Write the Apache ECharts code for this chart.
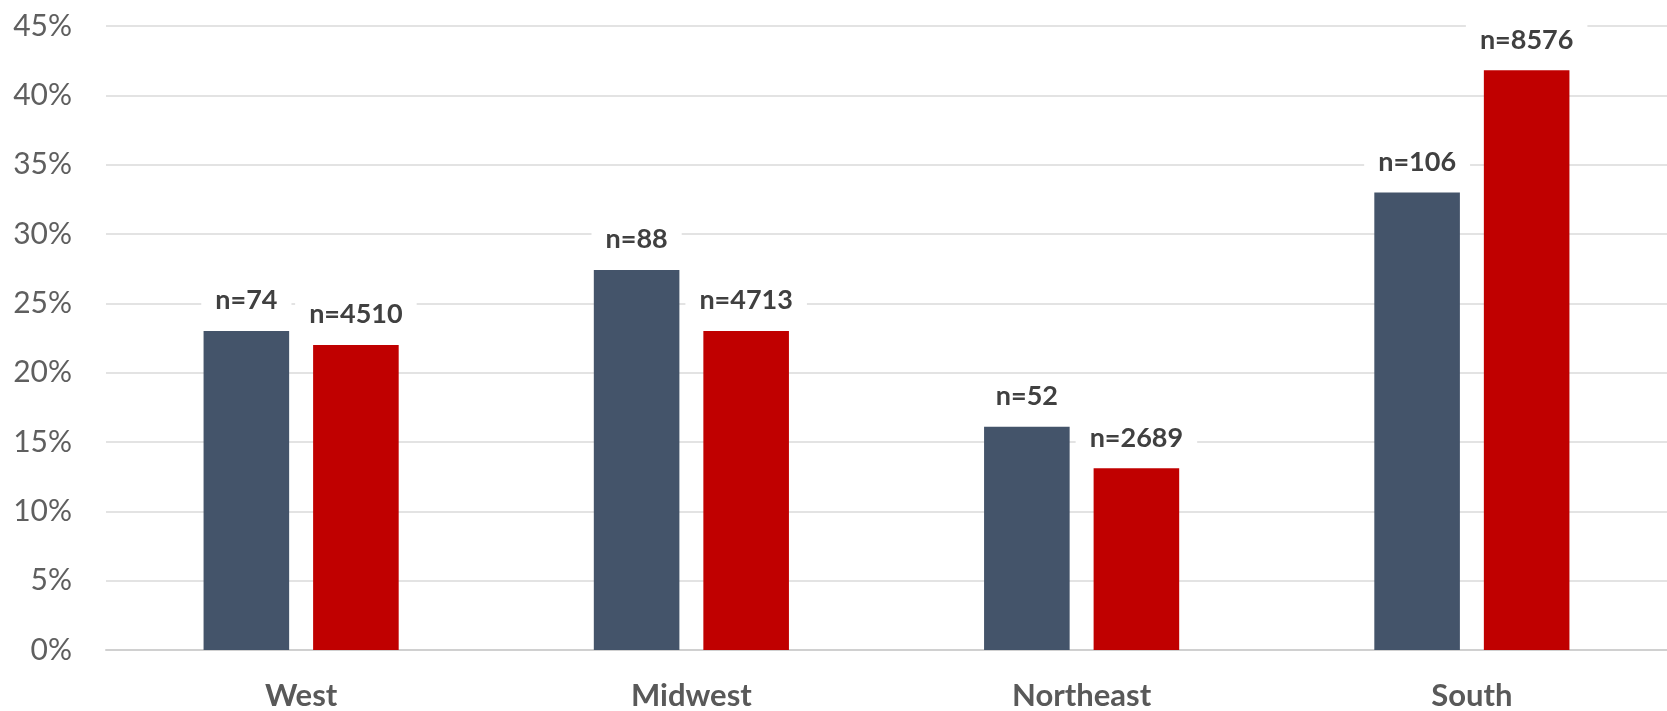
<!DOCTYPE html>
<html>
<head>
<meta charset="utf-8">
<script src="https://cdn.jsdelivr.net/npm/echarts@6/dist/echarts.min.js"></script>
<style>
html,body{margin:0;padding:0;background:#fff;}
#c{width:1667px;height:711px;}
</style>
</head>
<body>
<div id="c"></div>
<script>
const categories = ['West', 'Midwest', 'Northeast', 'South'];
const seriesA = [23, 27.4, 16.1, 33];
const seriesB = [22, 23, 13.1, 41.8];
const labelsA = ['n=74', 'n=88', 'n=52', 'n=106'];
const labelsB = ['n=4510', 'n=4713', 'n=2689', 'n=8576'];
const yTicks = { min: 0, max: 45, interval: 5 };

const chart = echarts.init(document.getElementById('c'), null, { renderer: 'canvas' });
const FONT = 'Lato, "Open Sans", sans-serif';
function lbl(arr) {
  return {
    show: true,
    position: 'top',
    distance: 15,
    formatter: p => arr[p.dataIndex],
    fontFamily: FONT,
    fontWeight: 'bold',
    fontSize: 27,
    color: '#404040',
    backgroundColor: '#fff',
    padding: [2, 14, 2, 14]
  };
}
chart.setOption({
  backgroundColor: '#fff',
  animation: false,
  grid: { left: 106, right: -7, top: 26, bottom: 59, containLabel: false },
  xAxis: {
    type: 'category',
    data: categories,
    axisLine: { show: true, lineStyle: { color: '#d0d0d0', width: 2 } },
    axisTick: { show: false },
    axisLabel: { fontFamily: FONT, fontWeight: 'bold', fontSize: 31, color: '#595959', margin: 30 }
  },
  yAxis: {
    type: 'value',
    min: yTicks.min, max: yTicks.max, interval: yTicks.interval,
    axisLine: { show: false },
    axisTick: { show: false },
    splitLine: { lineStyle: { color: '#e3e3e3', width: 2 } },
    axisLabel: { fontFamily: FONT, fontSize: 30, color: '#5f5f5f', margin: 34, formatter: v => v + '%' }
  },
  series: [
    { type: 'bar', data: seriesA, barGap: '28%', barCategoryGap: '50%',
      itemStyle: { color: '#44546A' }, label: lbl(labelsA) },
    { type: 'bar', data: seriesB,
      itemStyle: { color: '#C00000' }, label: lbl(labelsB) }
  ]
});
</script>
</body>
</html>
